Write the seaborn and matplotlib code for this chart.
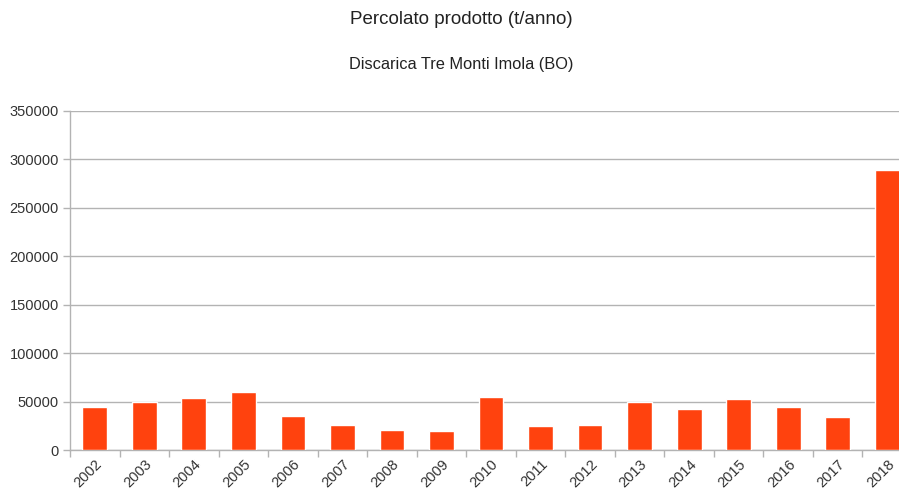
import numpy as np
import pandas as pd
import matplotlib.pyplot as plt
import seaborn as sns

# percolato prodotto per anno (t/anno)
anni = [str(a) for a in range(2002, 2019)]
percolato = [44800, 49300, 53400, 60300, 35200, 25900, 20700, 19300,
             54500, 25200, 25900, 50000, 42100, 52400, 44800, 34100, 289500]

df = pd.DataFrame({"anno": anni, "percolato": percolato})

sns.set_style("white")
plt.rcParams["font.family"] = ["Liberation Sans", "DejaVu Sans"]

W, H = 899, 495
fig = plt.figure(figsize=(W / 100, H / 100), dpi=100)
# axes intentionally runs past the right edge, like the original export
left, right, top, bottom = 70, 912, 111, 450
ax = fig.add_axes([left / W, 1 - bottom / H, (right - left) / W, (bottom - top) / H])

sns.barplot(df, x="anno", y="percolato", color="#ff420e", saturation=1,
            width=0.5, ax=ax, zorder=3)

ax.set_ylim(0, 350000)
ax.set_yticks(np.arange(0, 350001, 50000))
ax.yaxis.grid(True, color="#b3b3b3", linewidth=1, zorder=0)
ax.set_xlim(-0.5, len(anni) - 0.5)

ax.set_xticks(np.arange(-0.5, len(anni)), minor=True)
ax.tick_params(axis="x", which="major", length=0, labelsize=10.5, pad=5)
ax.tick_params(axis="x", which="minor", bottom=True, length=5,
               color="#b3b3b3", width=1)
ax.tick_params(axis="y", left=True, length=5, width=1, labelsize=10.5,
               color="#b3b3b3", labelcolor="#333333", pad=3)
for lab in ax.get_xticklabels():
    lab.set_rotation(45)
    lab.set_ha("right")
    lab.set_rotation_mode("anchor")
    lab.set_color("#333333")

for s in ("top", "right"):
    ax.spines[s].set_visible(False)
for s in ("left", "bottom"):
    ax.spines[s].set_color("#b3b3b3")
    ax.spines[s].set_linewidth(1)

ax.set_xlabel("")
ax.set_ylabel("")

fig.text(461 / W, 1 - 20 / H, "Percolato prodotto (t/anno)", ha="center",
         va="center", fontsize=13.5, color="#222222")
fig.text(461 / W, 1 - 65 / H, "Discarica Tre Monti Imola (BO)", ha="center",
         va="center", fontsize=11.8, color="#222222")

fig.savefig("out.png", dpi=100)
